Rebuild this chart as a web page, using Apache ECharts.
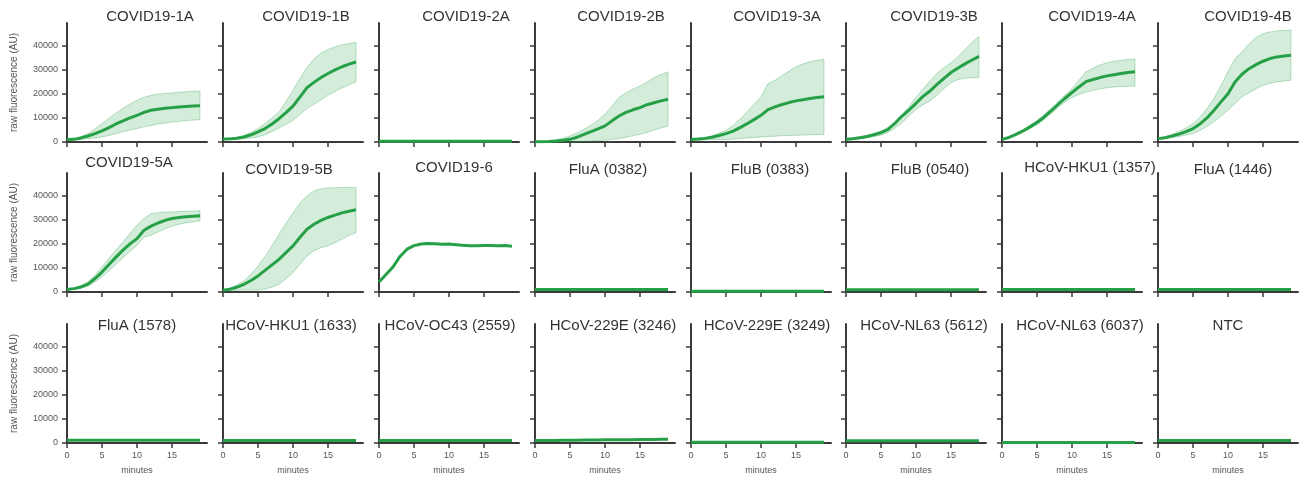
<!DOCTYPE html>
<html>
<head>
<meta charset="utf-8">
<script src="https://cdn.jsdelivr.net/npm/echarts@6/dist/echarts.min.js"></script>
<style>
html, body { margin: 0; padding: 0; background: #fff; }
#chart { width: 1304px; height: 480px; }
</style>
</head>
<body>
<div id="chart"></div>
<script>
// time axis (minutes)
var minutes = [0, 1, 2, 3, 4, 5, 6, 7, 8, 9, 10, 11, 12, 13, 14, 15, 16, 17, 18, 19];

var panelNames = [
    'COVID19-1A', 'COVID19-1B', 'COVID19-2A', 'COVID19-2B', 'COVID19-3A', 'COVID19-3B', 'COVID19-4A', 'COVID19-4B',
    'COVID19-5A', 'COVID19-5B', 'COVID19-6', 'FluA (0382)', 'FluB (0383)', 'FluB (0540)', 'HCoV-HKU1 (1357)', 'FluA (1446)',
    'FluA (1578)', 'HCoV-HKU1 (1633)', 'HCoV-OC43 (2559)', 'HCoV-229E (3246)', 'HCoV-229E (3249)', 'HCoV-NL63 (5612)', 'HCoV-NL63 (6037)', 'NTC'
];

// mean / lower / upper of the replicates (raw fluorescence, AU)
var c1A_mean = [1000, 1100, 1700, 2500, 3500, 4600, 6000, 7500, 8800, 10000, 11100, 12300, 13200, 13600, 14000, 14300, 14600, 14800, 15000, 15100];
var c1A_low  = [900, 900, 1100, 1400, 1700, 2100, 2700, 3500, 4300, 5000, 5600, 6300, 6900, 7500, 7900, 8300, 8600, 8900, 9100, 9300];
var c1A_high = [1100, 1400, 2300, 3500, 5400, 7600, 9800, 12000, 14000, 15800, 17400, 18600, 19400, 19900, 20200, 20400, 20700, 20900, 21100, 21200];

var c1B_mean = [1200, 1300, 1600, 2100, 3000, 4200, 5600, 7500, 9700, 12200, 14900, 18800, 22600, 24800, 26800, 28500, 30000, 31300, 32400, 33300];
var c1B_low  = [1000, 1000, 1200, 1400, 1700, 2100, 3000, 4300, 5800, 7400, 9000, 11500, 13900, 15800, 17600, 19400, 21000, 22500, 23800, 25000];
var c1B_high = [1400, 1600, 2000, 2800, 4000, 5600, 7700, 10000, 12500, 16800, 21500, 26500, 31000, 34500, 37000, 38500, 39600, 40400, 41000, 41400];

var c2A_mean = [300, 300, 300, 300, 300, 300, 300, 300, 300, 300, 300, 300, 300, 300, 300, 300, 300, 300, 300, 300];

var c2B_mean = [100, 150, 250, 400, 700, 1100, 2000, 3200, 4300, 5500, 6700, 8800, 10800, 12300, 13400, 14300, 15500, 16300, 17100, 17800];
var c2B_low  = [0, 0, 0, 0, 0, 0, 100, 200, 300, 500, 800, 1100, 1400, 2000, 2600, 3200, 4000, 5000, 5800, 6700];
var c2B_high = [200, 300, 500, 900, 1600, 2500, 3800, 5300, 7000, 9000, 11500, 15000, 18500, 20500, 22000, 23300, 25000, 26800, 28000, 29200];

var c3A_mean = [1000, 1200, 1500, 2000, 2700, 3500, 4500, 6000, 7600, 9300, 11100, 13500, 14600, 15600, 16400, 17100, 17600, 18100, 18500, 18800];
var c3A_low  = [900, 900, 1000, 1000, 1000, 1000, 1200, 1400, 1700, 1900, 2100, 2300, 2400, 2600, 2700, 2800, 2900, 3000, 3100, 3200];
var c3A_high = [1100, 1400, 1900, 2600, 3700, 4900, 6800, 9500, 12500, 15600, 18800, 24300, 25700, 27600, 29500, 31300, 32500, 33400, 34000, 34300];

var c3B_mean = [1100, 1400, 1800, 2300, 3000, 3900, 5200, 7800, 10800, 13300, 16100, 19000, 21200, 24000, 26500, 28900, 30800, 32500, 34100, 35600];
var c3B_low  = [900, 1100, 1400, 1800, 2300, 2800, 4000, 5800, 8000, 10800, 13600, 15500, 17100, 19500, 22200, 24700, 26000, 26500, 26700, 26800];
var c3B_high = [1300, 1700, 2200, 2800, 3600, 4600, 6200, 8500, 11300, 14800, 18500, 22000, 25400, 28500, 31000, 33000, 35500, 38500, 41500, 43900];

var c4A_mean = [1100, 1900, 3200, 4600, 6300, 8100, 10300, 12900, 15600, 18200, 20600, 22900, 25100, 26000, 26800, 27500, 28000, 28500, 28900, 29200];
var c4A_low  = [1000, 1800, 2900, 4100, 5600, 7200, 9300, 11800, 14400, 16600, 18500, 19800, 20800, 21500, 22100, 22600, 22900, 23100, 23200, 23300];
var c4A_high = [1200, 2000, 3500, 5100, 7000, 9000, 11300, 14000, 16800, 19500, 22200, 25700, 29200, 30700, 32000, 33000, 33600, 34000, 34300, 34500];

var c4B_mean = [1400, 1800, 2500, 3300, 4300, 5600, 7500, 10000, 13200, 16700, 20100, 25000, 28200, 30500, 32200, 33600, 34700, 35400, 35800, 36100];
var c4B_low  = [1200, 1400, 1900, 2300, 2900, 3500, 4800, 6500, 8500, 10800, 13200, 16000, 18800, 20500, 22200, 23600, 24400, 25000, 25400, 25700];
var c4B_high = [1600, 2200, 3100, 4400, 5800, 7600, 10300, 13900, 18100, 23500, 29200, 34700, 37500, 40800, 43500, 45100, 45800, 46200, 46400, 46500];

var c5A_mean = [1000, 1400, 2100, 3300, 5600, 8300, 11400, 14500, 17400, 20000, 22200, 25700, 27400, 28700, 29800, 30600, 31000, 31300, 31500, 31700];
var c5A_low  = [800, 1100, 1600, 2400, 4200, 6300, 8800, 11600, 14200, 16900, 19400, 22900, 23600, 25000, 26300, 27400, 28200, 28800, 29200, 29600];
var c5A_high = [1200, 1700, 2600, 4300, 7000, 10400, 14000, 17500, 20800, 24400, 27800, 30600, 32600, 33000, 33200, 33300, 33500, 33600, 33700, 33800];

var c5B_mean = [700, 1200, 2000, 3200, 4800, 6700, 9000, 11300, 13600, 16400, 19200, 22800, 26100, 28200, 29800, 31000, 32000, 32900, 33600, 34200];
var c5B_low  = [500, 600, 700, 800, 800, 800, 1200, 2000, 3200, 5500, 8100, 11500, 15000, 17200, 18400, 19200, 20500, 22000, 23500, 24700];
var c5B_high = [900, 1700, 3000, 4600, 7400, 10800, 14800, 19200, 24000, 28600, 33000, 37000, 40000, 42000, 43000, 43300, 43400, 43500, 43500, 43500];

var c6_mean = [4200, 7300, 10400, 14800, 17800, 19300, 20000, 20200, 20100, 19900, 20000, 19700, 19400, 19200, 19200, 19300, 19300, 19200, 19300, 19000];

var fluA0382 = [1000, 1000, 1000, 1000, 1000, 1000, 1000, 1000, 1000, 1000, 1000, 1000, 1000, 1000, 1000, 1000, 1000, 1000, 1000, 1000];
var fluB0383 = [300, 300, 300, 300, 300, 300, 300, 300, 300, 300, 300, 300, 300, 300, 300, 300, 300, 300, 300, 300];
var fluB0540 = [900, 900, 900, 900, 900, 900, 900, 900, 900, 900, 900, 900, 900, 900, 900, 900, 900, 900, 900, 900];
var hku1_1357 = [1000, 1000, 1000, 1000, 1000, 1000, 1000, 1000, 1000, 1000, 1000, 1000, 1000, 1000, 1000, 1000, 1000, 1000, 1000, 1000];
var fluA1446 = [1000, 1000, 1000, 1000, 1000, 1000, 1000, 1000, 1000, 1000, 1000, 1000, 1000, 1000, 1000, 1000, 1000, 1000, 1000, 1000];
var fluA1578 = [1100, 1100, 1100, 1100, 1100, 1100, 1100, 1100, 1100, 1100, 1100, 1100, 1100, 1100, 1100, 1100, 1100, 1100, 1100, 1100];
var hku1_1633 = [1000, 1000, 1000, 1000, 1000, 1000, 1000, 1000, 1000, 1000, 1000, 1000, 1000, 1000, 1000, 1000, 1000, 1000, 1000, 1000];
var oc43_2559 = [1000, 1000, 1000, 1000, 1000, 1000, 1000, 1000, 1000, 1000, 1000, 1000, 1000, 1000, 1000, 1000, 1000, 1000, 1000, 1000];
var e229_3246 = [1000, 1000, 1000, 1050, 1100, 1100, 1150, 1200, 1200, 1250, 1300, 1300, 1350, 1400, 1400, 1450, 1500, 1500, 1550, 1600];
var e229_3249 = [300, 300, 300, 300, 300, 300, 300, 300, 300, 300, 300, 300, 300, 300, 300, 300, 300, 300, 300, 300];
var nl63_5612 = [900, 900, 900, 900, 900, 900, 900, 900, 900, 900, 900, 900, 900, 900, 900, 900, 900, 900, 900, 900];
var nl63_6037 = [200, 200, 200, 200, 200, 200, 200, 200, 200, 200, 200, 200, 200, 200, 200, 200, 200, 200, 200, 200];
var ntc = [1000, 1000, 1000, 1000, 1000, 1000, 1000, 1000, 1000, 1000, 1000, 1000, 1000, 1000, 1000, 1000, 1000, 1000, 1000, 1000];

var panelMean = [c1A_mean, c1B_mean, c2A_mean, c2B_mean, c3A_mean, c3B_mean, c4A_mean, c4B_mean,
                 c5A_mean, c5B_mean, c6_mean, fluA0382, fluB0383, fluB0540, hku1_1357, fluA1446,
                 fluA1578, hku1_1633, oc43_2559, e229_3246, e229_3249, nl63_5612, nl63_6037, ntc];
var panelLow = [c1A_low, c1B_low, null, c2B_low, c3A_low, c3B_low, c4A_low, c4B_low,
                c5A_low, c5B_low];
var panelHigh = [c1A_high, c1B_high, null, c2B_high, c3A_high, c3B_high, c4A_high, c4B_high,
                 c5A_high, c5B_high];

var yTicks = [0, 10000, 20000, 30000, 40000];
var xTicks = [0, 5, 10, 15];

// layout
var colLeft = [67, 223, 379, 535, 691, 846, 1002, 1158];
var rowTop = [23, 173, 324];
var plotW = 140, plotH = 119;
var titleX = [150, 306, 466, 621, 777, 934, 1092, 1248,
              129, 289, 454, 608, 770, 930, 1090, 1233,
              137, 291, 450, 613, 767, 924, 1080, 1228];
var titleY = [17, 17, 17, 17, 17, 17, 17, 17,
              163, 170, 168, 170, 170, 170, 168, 170,
              326, 326, 326, 326, 326, 326, 326, 326];

var lineColor = '#26a047';
var bandFill = 'rgba(38,160,71,0.2)';
var bandEdge = 'rgba(38,160,71,0.3)';
var axisColor = '#3a3a3a';
var textColor = '#555';
var fontFam = '"Liberation Sans", Arial, sans-serif';

// shaded band between low and high, drawn as one polygon through the axis scale
function bandRenderer(lo, hi) {
    return function (params, api) {
        if (params.dataIndex !== 0) return;
        var pts = [];
        for (var k = 0; k < minutes.length; k++) pts.push(api.coord([minutes[k], hi[k]]));
        for (var k = minutes.length - 1; k >= 0; k--) pts.push(api.coord([minutes[k], lo[k]]));
        return {
            type: 'polygon',
            shape: { points: pts },
            style: { fill: bandFill, stroke: bandEdge, lineWidth: 1 }
        };
    };
}

var grids = [], xAxes = [], yAxes = [], series = [], texts = [];

for (var i = 0; i < panelNames.length; i++) {
    var row = Math.floor(i / 8), col = i % 8;
    grids.push({ left: colLeft[col], top: rowTop[row], width: plotW, height: plotH, containLabel: false });

    xAxes.push({
        gridIndex: i, type: 'value', min: 0, max: 20,
        axisLine: { onZero: false, lineStyle: { color: axisColor, width: 2 } },
        axisTick: { customValues: xTicks, length: 5, lineStyle: { color: axisColor, width: 1.5 } },
        axisLabel: { show: row === 2, customValues: xTicks, fontSize: 9, color: textColor, margin: 8, fontFamily: fontFam },
        splitLine: { show: false },
        name: row === 2 ? 'minutes' : '', nameLocation: 'middle', nameGap: 23,
        nameTextStyle: { fontSize: 9, color: textColor, fontFamily: fontFam }
    });
    yAxes.push({
        gridIndex: i, type: 'value', min: 0, max: 49500,
        axisLine: { show: true, onZero: false, lineStyle: { color: axisColor, width: 2 } },
        axisTick: { show: true, customValues: yTicks, length: 5, lineStyle: { color: axisColor, width: 1.5 } },
        axisLabel: {
            show: col === 0, customValues: yTicks, fontSize: 9, color: textColor, margin: 9, fontFamily: fontFam,
            formatter: function (v) { return String(v); }
        },
        splitLine: { show: false },
        name: col === 0 ? 'raw fluorescence (AU)' : '', nameLocation: 'middle', nameGap: 48,
        nameTextStyle: { fontSize: 10, color: textColor, fontFamily: fontFam }
    });

    var lo = panelLow[i], hi = panelHigh[i], mean = panelMean[i];
    if (lo && hi) {
        var bandData = [];
        for (var k = 0; k < minutes.length; k++) bandData.push([minutes[k], lo[k], hi[k]]);
        series.push({
            type: 'custom', xAxisIndex: i, yAxisIndex: i, data: bandData,
            encode: { x: 0, y: [1, 2] }, silent: true, z: 1,
            renderItem: bandRenderer(lo, hi)
        });
    }
    var meanData = [];
    for (var k = 0; k < minutes.length; k++) meanData.push([minutes[k], mean[k]]);
    series.push({
        type: 'line', xAxisIndex: i, yAxisIndex: i, data: meanData,
        symbol: 'none', z: 3,
        lineStyle: { color: lineColor, width: 3 }
    });

    texts.push({
        type: 'text', x: titleX[i], y: titleY[i],
        style: {
            text: panelNames[i], fill: '#333', font: '15px ' + fontFam,
            textAlign: 'center', textVerticalAlign: 'middle'
        }
    });
}

var chart = echarts.init(document.getElementById('chart'), null, { renderer: 'canvas' });
chart.setOption({
    backgroundColor: '#fff',
    animation: false,
    grid: grids,
    xAxis: xAxes,
    yAxis: yAxes,
    series: series,
    graphic: texts
});
</script>
</body>
</html>
